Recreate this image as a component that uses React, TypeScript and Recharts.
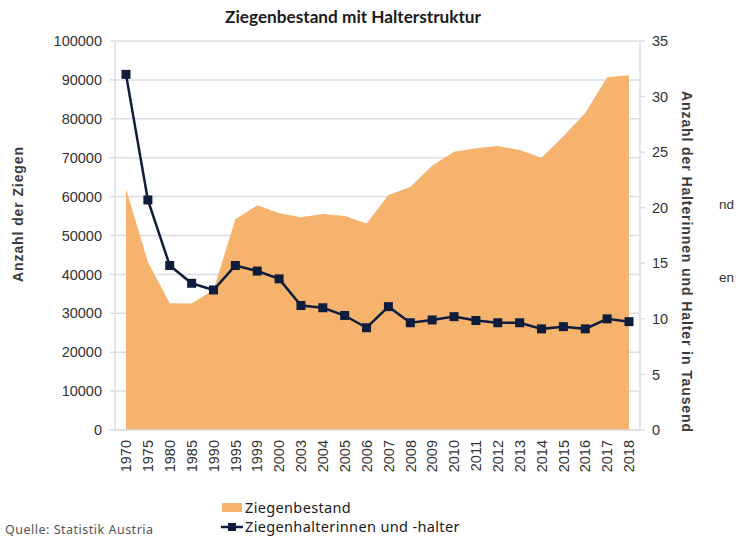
import React from 'react';
import { ComposedChart, Area, Line, XAxis, YAxis, CartesianGrid } from 'recharts';

const years = ['1970','1975','1980','1985','1990','1995','1999','2000','2003','2004','2005','2006','2007','2008','2009','2010','2011','2012','2013','2014','2015','2016','2017','2018'];
const goats = [62000,43200,32600,32500,36000,54200,57800,55700,54700,55500,55000,53100,60400,62500,67900,71500,72400,73000,72000,70000,75500,81500,90700,91200];
const holders = [32.0,20.7,14.8,13.2,12.6,14.8,14.3,13.6,11.2,11.0,10.3,9.2,11.1,9.65,9.9,10.2,9.85,9.65,9.65,9.1,9.3,9.1,10.0,9.75];
const leftTicks = [0,10000,20000,30000,40000,50000,60000,70000,80000,90000,100000];
const rightTicks = [0,5,10,15,20,25,30,35];

const data = years.map((y, i) => ({ year: y, goats: goats[i], holders: holders[i] }));

const ORANGE = '#f5b36e';
const NAVY = '#0f1d3d';
const GRID = '#dcdce6';
const TICK_FONT = '"Liberation Sans", Arial, sans-serif';

const XTick = (props: any) => {
  const { x, y, payload } = props;
  return (
    <text x={x} y={y} transform={`rotate(-90, ${x}, ${y})`} textAnchor="end" dy="0.36em"
      fontFamily={TICK_FONT} fontSize={14.5} fill="#333">{payload.value}</text>
  );
};

const SquareDot = (props: any) => {
  const { cx, cy } = props;
  if (cx == null || cy == null) return null;
  return <rect x={cx - 4.5} y={cy - 4.5} width={9} height={9} fill={NAVY} />;
};

export default function App() {
  return (
    <div style={{ position: 'absolute', left: 0, top: 0, width: 736, height: 539, background: '#fff', overflow: 'hidden' }}>
      <ComposedChart width={736} height={539} data={data} margin={{ top: 41, right: 0, bottom: 69, left: 0 }}>
        <CartesianGrid vertical={false} stroke={GRID} strokeWidth={1.5} yAxisId="left" />
        <XAxis dataKey="year" type="category" interval={0} height={40} tickSize={0} tickMargin={10}
          tick={<XTick />} padding={{ left: 11, right: 11 }} axisLine={{ stroke: GRID, strokeWidth: 1.5 }} tickLine={false} />
        <YAxis yAxisId="left" orientation="left" width={115} domain={[0, 100000]} ticks={leftTicks}
          tickSize={5} tickMargin={8} interval={0}
          axisLine={{ stroke: GRID, strokeWidth: 1.5 }} tickLine={{ stroke: GRID, strokeWidth: 1.5 }}
          tick={{ fontFamily: TICK_FONT, fontSize: 14.5, fill: '#333' }} />
        <YAxis yAxisId="right" orientation="right" width={96} domain={[0, 35]} ticks={rightTicks}
          tickSize={5} tickMargin={7} interval={0}
          axisLine={{ stroke: GRID, strokeWidth: 1.5 }} tickLine={{ stroke: GRID, strokeWidth: 1.5 }}
          tick={{ fontFamily: TICK_FONT, fontSize: 14.5, fill: '#333' }} />
        <Area yAxisId="left" type="linear" dataKey="goats" stroke="none" fill={ORANGE} fillOpacity={1}
          isAnimationActive={false} />
        <Line yAxisId="right" type="linear" dataKey="holders" stroke={NAVY} strokeWidth={2.5}
          dot={<SquareDot />} activeDot={false} isAnimationActive={false} />
      </ComposedChart>

      <svg width={736} height={539} style={{ position: 'absolute', left: 0, top: 0, pointerEvents: 'none' }}>
        <text x={353} y={23} textAnchor="middle" fontFamily="Lato, sans-serif" fontWeight={700} fontSize={17.2} fill="#1a1a1a">
          Ziegenbestand mit Halterstruktur
        </text>
        <text x={18} y={214} transform="rotate(-90, 18, 214)" textAnchor="middle" dy="0.36em"
          fontFamily={TICK_FONT} fontWeight={700} fontSize={14} letterSpacing={0.9} fill="#3a3a3a">
          Anzahl der Ziegen
        </text>
        <text x={687} y={262} transform="rotate(90, 687, 262)" textAnchor="middle" dy="0.36em"
          fontFamily={TICK_FONT} fontWeight={700} fontSize={14} letterSpacing={0.9} fill="#3a3a3a">
          Anzahl der Halterinnen und Halter in Tausend
        </text>
        <text x={719} y={209} fontFamily={TICK_FONT} fontSize={13.5} fill="#333">nd</text>
        <text x={719} y={282} fontFamily={TICK_FONT} fontSize={13.5} fill="#333">en</text>

        <rect x={222} y={503} width={20} height={9} fill={ORANGE} />
        <text x={245} y={513} fontFamily='"Noto Sans", sans-serif' fontSize={14.5} letterSpacing={0.35} fill="#1a1a1a">Ziegenbestand</text>
        <line x1={221} y1={527} x2={243} y2={527} stroke={NAVY} strokeWidth={2.5} />
        <rect x={228} y={523} width={8} height={8} fill={NAVY} />
        <text x={245} y={532} fontFamily='"Noto Sans", sans-serif' fontSize={14.5} letterSpacing={0.35} fill="#1a1a1a">Ziegenhalterinnen und -halter</text>

        <text x={5} y={534} fontFamily='"Noto Sans", sans-serif' fontSize={12.5} letterSpacing={0.5} fill="#555">Quelle: Statistik Austria</text>
      </svg>
    </div>
  );
}
